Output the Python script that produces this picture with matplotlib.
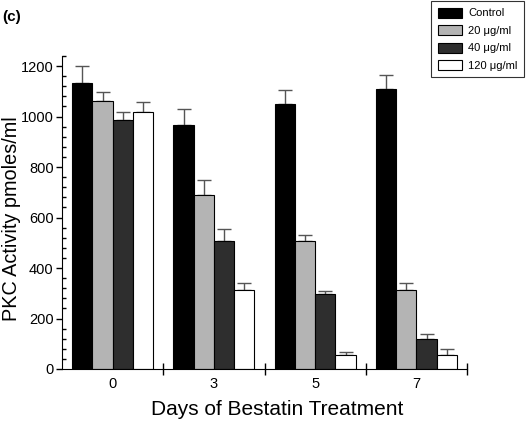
import numpy as np
import matplotlib.pyplot as plt
from matplotlib.ticker import MultipleLocator

plt.rcParams['font.family'] = ['Liberation Sans', 'DejaVu Sans']

days = ["0", "3", "5", "7"]
series = ["Control", "20 \u03bcg/ml", "40 \u03bcg/ml", "120 \u03bcg/ml"]
control = [1135, 966, 1048, 1108]
c20 = [1060, 688, 508, 312]
c40 = [987, 507, 296, 118]
c120 = [1017, 313, 57, 57]
err_control = [65, 65, 56, 56]
err20 = [37, 60, 24, 30]
err40 = [33, 46, 12, 21]
err120 = [42, 27, 9, 21]

values = [control, c20, c40, c120]
errors = [err_control, err20, err40, err120]
colors = ["#000000", "#b4b4b4", "#2e2e2e", "#ffffff"]

fig = plt.figure(figsize=(5.26, 4.22), dpi=100)
ax = fig.add_axes([62 / 526, 53 / 422, 405 / 526, 313 / 422])

x = np.arange(len(days))
w = 0.2
for i, (vals, errs, col) in enumerate(zip(values, errors, colors)):
    pos = x + (i - 1.5) * w
    ax.bar(pos, vals, width=w, color=col, edgecolor="black", linewidth=0.8,
           label=series[i], zorder=2)
    ax.errorbar(pos, vals, yerr=[np.zeros(len(errs)), errs], fmt="none",
                ecolor="#555555", elinewidth=1, capsize=5, capthick=1, zorder=1)

ax.set_xlim(-0.5, 3.5)
ax.set_ylim(0, 1240)
ax.set_xticks(x)
ax.set_xticklabels(days, fontsize=10.5)
ax.set_xticks(np.arange(0.5, 3.6, 1), minor=True)
ax.tick_params(axis="x", which="major", length=0, pad=6)
ax.tick_params(axis="x", which="minor", direction="inout", length=8, width=1)
ax.yaxis.set_major_locator(MultipleLocator(200))
ax.yaxis.set_minor_locator(MultipleLocator(40))
ax.tick_params(axis="y", which="major", direction="out", length=4, width=1,
               labelsize=10.5, pad=2)
ax.tick_params(axis="y", which="minor", direction="in", length=3, width=1)
ax.spines["top"].set_visible(False)
ax.spines["right"].set_visible(False)

ax.set_xlabel("Days of Bestatin Treatment", fontsize=15)
ax.xaxis.set_label_coords((277 - 62) / 405, (369 - 400) / 313)
ax.set_ylabel("PKC Activity pmoles/ml", fontsize=14.3)
ax.yaxis.set_label_coords((21 - 62) / 405, 0.48)

fig.text(2 / 526, 1 - 17 / 422, "(c)", fontsize=11, fontweight="bold", va="center")

leg = ax.legend(loc="upper right", bbox_to_anchor=(524 / 526, 421 / 422),
                bbox_transform=fig.transFigure, fontsize=8, frameon=True,
                fancybox=False, edgecolor="black", handlelength=2.2,
                handleheight=1.0, labelspacing=0.6, borderpad=0.6,
                handletextpad=0.5, borderaxespad=0)
leg.get_frame().set_linewidth(0.8)

fig.savefig("out.png", dpi=100)
